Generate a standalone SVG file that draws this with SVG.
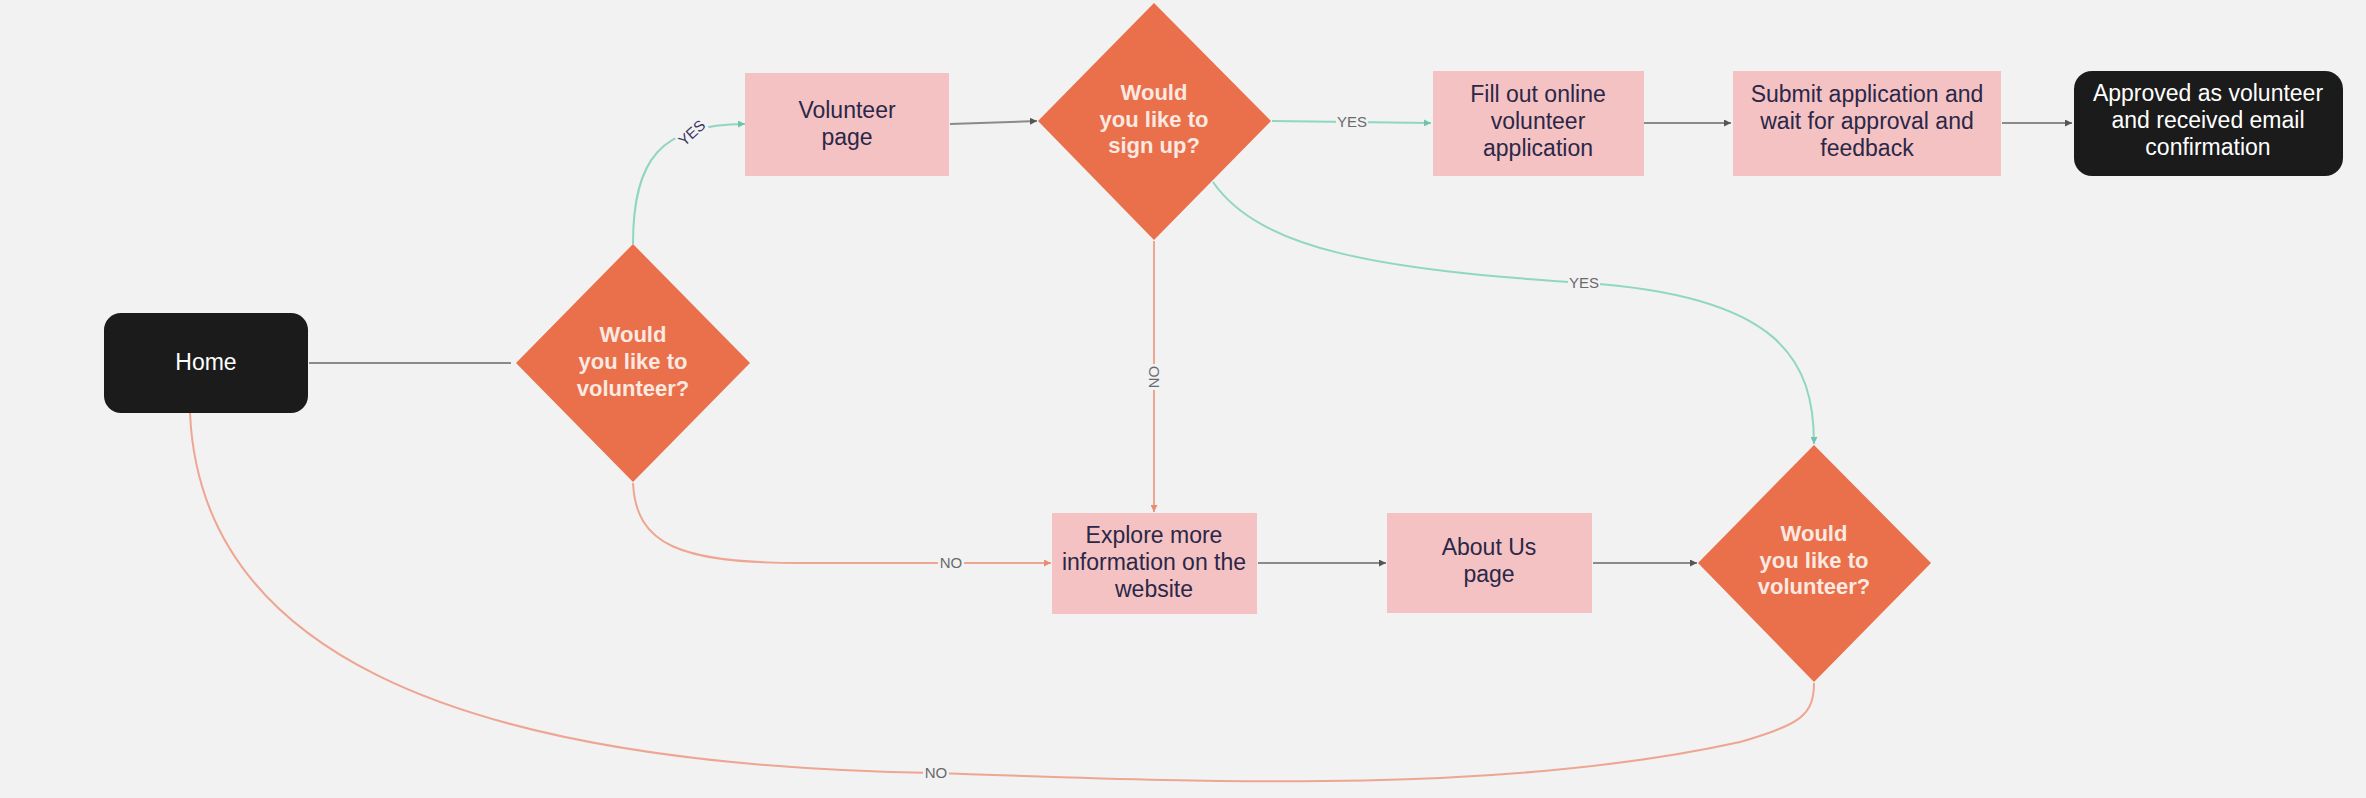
<svg xmlns="http://www.w3.org/2000/svg" width="2366" height="798" viewBox="0 0 2366 798">
<defs>
<style>
.bg{fill:#f2f2f2}
.pink{fill:#f4c2c2}
.dia{fill:#e9704a}
.blk{fill:#1b1b1b}
.t{font-family:"Liberation Sans",Arial,sans-serif;font-size:23px;text-anchor:middle;fill:#2b2748}
.tw{font-family:"Liberation Sans",Arial,sans-serif;font-size:23px;text-anchor:middle;fill:#ffffff}
.tb{font-family:"Liberation Sans",Arial,sans-serif;font-size:22px;font-weight:bold;text-anchor:middle;fill:#fbe9e2}
.gray{fill:none;stroke:#8a8a8a;stroke-width:2}
.teal{fill:none;stroke:#8fd6c3;stroke-width:2}
.sal{fill:none;stroke:#eea591;stroke-width:2}
.lbl{font-family:"Liberation Sans",Arial,sans-serif;font-size:15px;text-anchor:middle;fill:#6a6a6a}
.lblbg{fill:#f2f2f2}
</style>
<marker id="ag" viewBox="0 0 6 6" refX="6" refY="3" markerWidth="3.5" markerHeight="3.5" orient="auto"><path d="M0,0 L6,3 L0,6 Z" fill="#555"/></marker>
<marker id="at" viewBox="0 0 6 6" refX="6" refY="3" markerWidth="3.5" markerHeight="3.5" orient="auto"><path d="M0,0 L6,3 L0,6 Z" fill="#6fc4ae"/></marker>
<marker id="as" viewBox="0 0 6 6" refX="6" refY="3" markerWidth="3.5" markerHeight="3.5" orient="auto"><path d="M0,0 L6,3 L0,6 Z" fill="#e98c74"/></marker>
</defs>
<rect class="bg" x="0" y="0" width="2366" height="798"/>

<g id="connectors">
<path class="gray" d="M309,363 L511,363"/>
<path class="teal" d="M633,244 C633,160 660,124 745,124" marker-end="url(#at)"/>
<path class="gray" d="M950,124 L1037,121" marker-end="url(#ag)"/>
<path class="teal" d="M1272,121 L1431,123" marker-end="url(#at)"/>
<path class="gray" d="M1644,123 L1731,123" marker-end="url(#ag)"/>
<path class="gray" d="M2002,123 L2072,123" marker-end="url(#ag)"/>
<path class="sal" d="M1154,241 L1154,512" marker-end="url(#as)"/>
<path class="teal" d="M1213,182 C1260,250 1380,270 1585,283 C1780,296 1814,360 1814,444" marker-end="url(#at)"/>
<path class="sal" d="M633,483 C636,545 680,563 800,563 L1051,563" marker-end="url(#as)"/>
<path class="gray" d="M1258,563 L1386,563" marker-end="url(#ag)"/>
<path class="gray" d="M1593,563 L1697,563" marker-end="url(#ag)"/>
<path class="sal" d="M1814,683 C1814,715 1800,725 1740,742 C1500,795 1200,782 936,773 C430,765 200,640 190,413"/>
<g>
<rect class="lblbg" x="676" y="124" width="32" height="18" transform="rotate(-42 692 133)"/>
<text class="lbl" x="692" y="138" transform="rotate(-42 692 133)" style="fill:#3a3660">YES</text>
<rect class="lblbg" x="1336" y="113" width="32" height="18"/>
<text class="lbl" x="1352" y="127">YES</text>
<rect class="lblbg" x="1568" y="274" width="32" height="18"/>
<text class="lbl" x="1584" y="288">YES</text>
<rect class="lblbg" x="1141" y="368" width="26" height="18" transform="rotate(-90 1154 377)"/>
<text class="lbl" x="1154" y="382" transform="rotate(-90 1154 377)">NO</text>
<rect class="lblbg" x="938" y="554" width="26" height="18"/>
<text class="lbl" x="951" y="568">NO</text>
<rect class="lblbg" x="923" y="764" width="26" height="18"/>
<text class="lbl" x="936" y="778">NO</text>
</g>
</g>

<g id="home">
<rect class="blk" x="104" y="313" width="204" height="100" rx="17"/>
<text class="tw" x="206" y="370">Home</text>
</g>

<g id="q-volunteer-1">
<polygon class="dia" points="633,244 750,363 633,482 516,363"/>
<text class="tb" x="633" y="342">Would</text>
<text class="tb" x="633" y="369">you like to</text>
<text class="tb" x="633" y="396">volunteer?</text>
</g>

<g id="volunteer-page">
<rect class="pink" x="745" y="73" width="204" height="103"/>
<text class="t" x="847" y="118">Volunteer</text>
<text class="t" x="847" y="145">page</text>
</g>

<g id="q-signup">
<polygon class="dia" points="1154,3 1271,121 1154,240 1038,121"/>
<text class="tb" x="1154" y="100">Would</text>
<text class="tb" x="1154" y="127">you like to</text>
<text class="tb" x="1154" y="153">sign up?</text>
</g>

<g id="fill-out">
<rect class="pink" x="1433" y="71" width="211" height="105"/>
<text class="t" x="1538" y="102">Fill out online</text>
<text class="t" x="1538" y="129">volunteer</text>
<text class="t" x="1538" y="156">application</text>
</g>

<g id="submit">
<rect class="pink" x="1733" y="71" width="268" height="105"/>
<text class="t" x="1867" y="102">Submit application and</text>
<text class="t" x="1867" y="129">wait for approval and</text>
<text class="t" x="1867" y="156">feedback</text>
</g>

<g id="approved">
<rect class="blk" x="2074" y="71" width="269" height="105" rx="18"/>
<text class="tw" x="2208" y="101">Approved as volunteer</text>
<text class="tw" x="2208" y="128">and received email</text>
<text class="tw" x="2208" y="155">confirmation</text>
</g>

<g id="explore">
<rect class="pink" x="1052" y="513" width="205" height="101"/>
<text class="t" x="1154" y="543">Explore more</text>
<text class="t" x="1154" y="570">information on the</text>
<text class="t" x="1154" y="597">website</text>
</g>

<g id="about-us">
<rect class="pink" x="1387" y="513" width="205" height="100"/>
<text class="t" x="1489" y="555">About Us</text>
<text class="t" x="1489" y="582">page</text>
</g>

<g id="q-volunteer-2">
<polygon class="dia" points="1814,445 1931,563 1814,682 1698,563"/>
<text class="tb" x="1814" y="541">Would</text>
<text class="tb" x="1814" y="568">you like to</text>
<text class="tb" x="1814" y="594">volunteer?</text>
</g>
</svg>
